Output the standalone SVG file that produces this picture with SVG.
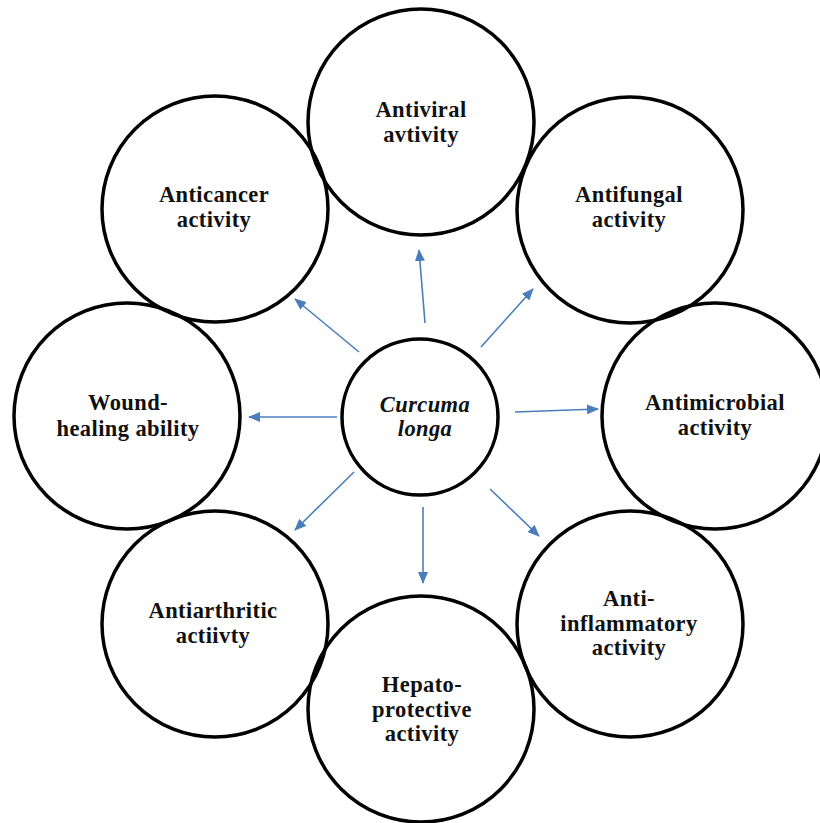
<svg xmlns="http://www.w3.org/2000/svg" width="820" height="823" viewBox="0 0 820 823">
  <style>
    .c { fill: none; stroke: #000; stroke-width: 3.5; }
    .t { font-family: "Liberation Serif", "Times New Roman", serif; font-weight: bold; font-size: 22.5px; letter-spacing: 0.4px; fill: #111; text-anchor: middle; }
    .i { font-style: italic; }
    .a { stroke: #4a7ebb; stroke-width: 1.6; fill: none; marker-end: url(#ah); }
  </style>
  <defs>
    <marker id="ah" markerUnits="userSpaceOnUse" markerWidth="12" markerHeight="10" refX="11" refY="5" orient="auto">
      <path d="M0,0 L12,5 L0,10 z" fill="#4a7ebb"/>
    </marker>
  </defs>
  <rect width="820" height="823" fill="#fff"/>

  <g id="connectors">
    <line class="a" x1="425" y1="323" x2="419" y2="250"/>
    <line class="a" x1="481" y1="347" x2="533" y2="289"/>
    <line class="a" x1="359" y1="352" x2="295" y2="299"/>
    <line class="a" x1="337" y1="417" x2="249" y2="417"/>
    <line class="a" x1="515" y1="412" x2="598" y2="409"/>
    <line class="a" x1="354" y1="472" x2="295" y2="530"/>
    <line class="a" x1="423" y1="507" x2="423" y2="583"/>
    <line class="a" x1="490" y1="489" x2="539" y2="536"/>
  </g>

  <g id="center">
    <circle class="c" cx="420" cy="417" r="78"/>
    <text class="t i" x="425" y="412">Curcuma</text>
    <text class="t i" x="425" y="436">longa</text>
  </g>

  <g id="antiviral">
    <circle class="c" cx="421" cy="122" r="113"/>
    <text class="t" x="421" y="117">Antiviral</text>
    <text class="t" x="421" y="142">avtivity</text>
  </g>

  <g id="antifungal">
    <circle class="c" cx="630" cy="210" r="113"/>
    <text class="t" x="629" y="202">Antifungal</text>
    <text class="t" x="629" y="227">activity</text>
  </g>

  <g id="antimicrobial">
    <circle class="c" cx="715" cy="416" r="113"/>
    <text class="t" x="715" y="410">Antimicrobial</text>
    <text class="t" x="715" y="435">activity</text>
  </g>

  <g id="antiinflammatory">
    <circle class="c" cx="630" cy="624" r="113"/>
    <text class="t" x="629" y="606">Anti-</text>
    <text class="t" x="629" y="631">inflammatory</text>
    <text class="t" x="629" y="655">activity</text>
  </g>

  <g id="hepatoprotective">
    <circle class="c" cx="421" cy="709" r="113"/>
    <text class="t" x="422" y="692">Hepato-</text>
    <text class="t" x="422" y="717">protective</text>
    <text class="t" x="422" y="741">activity</text>
  </g>

  <g id="antiarthritic">
    <circle class="c" cx="215" cy="624" r="113"/>
    <text class="t" x="213" y="618">Antiarthritic</text>
    <text class="t" x="213" y="643">actiivty</text>
  </g>

  <g id="woundhealing">
    <circle class="c" cx="127" cy="416" r="113"/>
    <text class="t" x="128" y="410">Wound-</text>
    <text class="t" x="128" y="436">healing ability</text>
  </g>

  <g id="anticancer">
    <circle class="c" cx="215" cy="209" r="113"/>
    <text class="t" x="214" y="202">Anticancer</text>
    <text class="t" x="214" y="227">activity</text>
  </g>
</svg>
